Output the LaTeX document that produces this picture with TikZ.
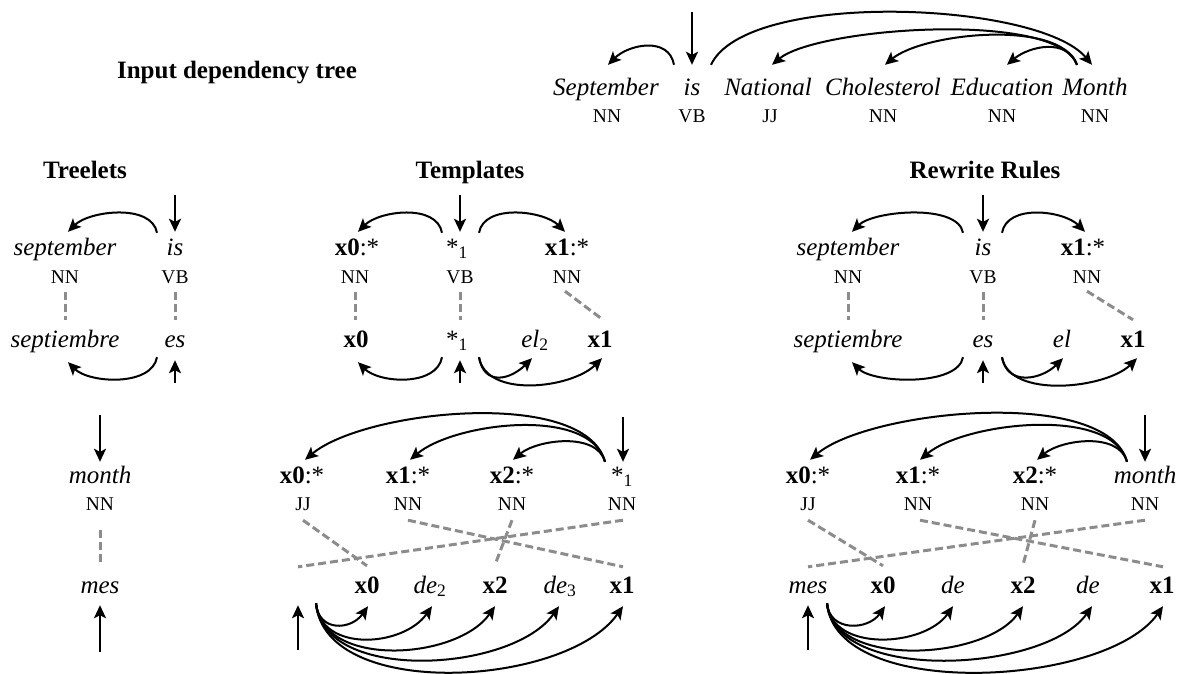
\documentclass[tikz,border=0pt]{standalone}
\usepackage{fontspec}
\setmainfont{Liberation Serif}
\usetikzlibrary{arrows.meta}
\newcommand{\slotvar}[1]{\textbf{x#1}:*}
\newcommand{\headstar}{*\textsubscript{1}}

\begin{document}
\begin{tikzpicture}[x=1pt,y=1pt,
	wordnode/.style={font=\fontsize{25}{30}\selectfont\itshape, inner xsep=1pt, inner ysep=0pt, text height=17pt, text depth=5pt, anchor=base},
	slotnode/.style={wordnode, font=\fontsize{25}{30}\selectfont},
	tagnode/.style={font=\fontsize{19.5}{23}\selectfont, inner sep=0pt, text height=13pt, text depth=0pt, anchor=base},
	titlenode/.style={font=\fontsize{25}{30}\selectfont\bfseries, inner sep=0pt, anchor=base},
	deparc/.style={line width=2pt, -{Stealth[length=13pt,width=12pt,inset=3pt]}},
	alignline/.style={line width=3pt, black!45, dash pattern=on 8pt off 4pt}]
			%%%%% START %%%%%
			\useasboundingbox (0,0) rectangle (1177,-673);
			
			%% input tree
			\node[titlenode] (inTitle) at (237,-78) {Input dependency tree};
			\node[wordnode] (inSep) at (606,-95) {September};
			\node[wordnode] (inIs) at (692,-95) {is};
			\node[wordnode] (inNat) at (768,-95) {National};
			\node[wordnode] (inCho) at (883,-95) {Cholesterol};
			\node[wordnode] (inEdu) at (1002,-95) {Education};
			\node[wordnode] (inMon) at (1095,-95) {Month};
			\node[tagnode] (inSepT) at (607,-122) {NN};
			\node[tagnode] (inIsT) at (692,-122) {VB};
			\node[tagnode] (inNatT) at (770,-122) {JJ};
			\node[tagnode] (inChoT) at (883,-122) {NN};
			\node[tagnode] (inEduT) at (1002,-122) {NN};
			\node[tagnode] (inMonT) at (1095,-122) {NN};
			
			\coordinate (inRoot) at (692,-12);
			\draw[deparc] (inRoot) -- ([yshift=13pt]inIs.north);
			\draw[deparc] ([xshift=-18pt,yshift=13pt]inIs.north) to[out=100,in=45,looseness=1.13] ([xshift=2pt,yshift=13pt]inSep.north);
			\draw[deparc] ([xshift=19pt,yshift=13pt]inIs.north) to[out=65,in=130,looseness=0.56] ([xshift=-3pt,yshift=13pt]inMon.north);
			\draw[deparc] ([xshift=-18pt,yshift=13pt]inMon.north) to[out=110,in=40,looseness=0.49] ([xshift=4pt,yshift=13pt]inNat.north);
			\draw[deparc] ([xshift=-18pt,yshift=13pt]inMon.north) to[out=110,in=40,looseness=0.66] ([xshift=2pt,yshift=13pt]inCho.north);
			\draw[deparc] ([xshift=-18pt,yshift=13pt]inMon.north) to[out=110,in=40,looseness=1.06] ([xshift=5pt,yshift=13pt]inEdu.north);
			
			%% treelets
			\node[titlenode] (tlTitle) at (85,-178) {Treelets};
			\node[wordnode] (tlSep) at (65,-255) {september};
			\node[wordnode] (tlIs) at (175,-255) {is};
			\node[tagnode] (tlSepT) at (65,-283) {NN};
			\node[tagnode] (tlIsT) at (175,-283) {VB};
			\node[wordnode] (tlSepti) at (65,-347) {septiembre};
			\node[wordnode] (tlEs) at (175,-347) {es};
			\node[wordnode] (tlMon) at (100,-483) {month};
			\node[tagnode] (tlMonT) at (100,-510) {NN};
			\node[wordnode] (tlMes) at (100,-593) {mes};
			
			\coordinate (tlIsIn) at (175,-195);
			\draw[deparc] (tlIsIn) -- ([yshift=6pt]tlIs.north);
			\draw[deparc] ([xshift=-18pt,yshift=5pt]tlIs.north) to[out=100,in=45,looseness=0.86] ([xshift=3pt,yshift=6pt]tlSep.north);
			\draw[alignline] ([yshift=-9pt]tlSepT.south) -- ([yshift=10pt]tlSepti.north);
			\draw[alignline] ([yshift=-9pt]tlIsT.south) -- ([yshift=10pt]tlEs.north);
			\draw[deparc] ([xshift=-18pt,yshift=-5pt]tlEs.south) to[out=260,in=315,looseness=0.86] ([xshift=3pt,yshift=-10pt]tlSepti.south);
			\coordinate (tlEsIn) at (175,-383);
			\draw[deparc] (tlEsIn) -- ([yshift=-8pt]tlEs.south);
			\coordinate (tlMonIn) at (100,-415);
			\draw[deparc] (tlMonIn) -- ([yshift=4pt]tlMon.north);
			\draw[alignline] ([yshift=-20pt]tlMonT.south) -- ([yshift=13pt]tlMes.north);
			\coordinate (tlMesIn) at (100,-652);
			\draw[deparc] (tlMesIn) -- ([yshift=-7pt]tlMes.south);
			
			%% templates
			\node[titlenode] (tpTitle) at (470,-178) {Templates};
			\node[slotnode] (tpX0) at (357,-255) {\slotvar{0}};
			\node[slotnode] (tpS) at (457,-255) {\headstar};
			\node[slotnode] (tpX1) at (567,-255) {\slotvar{1}};
			\node[tagnode] (tpX0T) at (355,-283) {NN};
			\node[tagnode] (tpST) at (460,-283) {VB};
			\node[tagnode] (tpX1T) at (567,-283) {NN};
			\node[slotnode] (tpX0b) at (356,-347) {\textbf{x0}};
			\node[slotnode] (tpSb) at (457,-347) {\headstar};
			\node[slotnode] (tpEl) at (535,-347) {\textit{el}\textsubscript{2}};
			\node[slotnode] (tpX1b) at (600,-347) {\textbf{x1}};
			
			\coordinate (tpSIn) at (460,-195);
			\draw[deparc] (tpSIn) -- ([xshift=3pt,yshift=6pt]tpS.north);
			\draw[deparc] ([xshift=-15pt,yshift=5pt]tpS.north) to[out=100,in=45,looseness=0.91] ([xshift=1pt,yshift=6pt]tpX0.north);
			\draw[deparc] ([xshift=22pt,yshift=5pt]tpS.north) to[out=80,in=135,looseness=0.89] ([xshift=-2pt,yshift=6pt]tpX1.north);
			\draw[alignline] ([yshift=-9pt]tpX0T.south) -- ([xshift=-1pt,yshift=10pt]tpX0b.north);
			\draw[alignline] ([yshift=-9pt]tpST.south) -- ([xshift=3pt,yshift=10pt]tpSb.north);
			\draw[alignline] ([xshift=-2pt,yshift=-8pt]tpX1T.south) -- ([xshift=3pt,yshift=10pt]tpX1b.north);
			\draw[deparc] ([xshift=-15pt,yshift=-5pt]tpSb.south) to[out=260,in=315,looseness=0.91] ([xshift=2pt,yshift=-10pt]tpX0b.south);
			\draw[deparc] ([xshift=22pt,yshift=-5pt]tpSb.south) to[out=280,in=225,looseness=1.45] ([xshift=-3pt,yshift=-6pt]tpEl.south);
			\draw[deparc] ([xshift=22pt,yshift=-5pt]tpSb.south) to[out=280,in=225,looseness=0.88] ([xshift=2pt,yshift=-6pt]tpX1b.south);
			\coordinate (tpSbIn) at (460,-383);
			\draw[deparc] (tpSbIn) -- ([xshift=3pt,yshift=-8pt]tpSb.south);
			
			\node[slotnode] (tqX0) at (302,-483) {\slotvar{0}};
			\node[slotnode] (tqX1) at (408,-483) {\slotvar{1}};
			\node[slotnode] (tqX2) at (512,-483) {\slotvar{2}};
			\node[slotnode] (tqS) at (622,-483) {\headstar};
			\node[tagnode] (tqX0T) at (303,-510) {JJ};
			\node[tagnode] (tqX1T) at (408,-510) {NN};
			\node[tagnode] (tqX2T) at (512,-510) {NN};
			\node[tagnode] (tqST) at (622,-510) {NN};
			\node[slotnode] (tqRoot) at (298,-593) {};
			\node[slotnode] (tqX0b) at (367,-593) {\textbf{x0}};
			\node[slotnode] (tqDe2) at (430,-593) {\textit{de}\textsubscript{2}};
			\node[slotnode] (tqX2b) at (495,-593) {\textbf{x2}};
			\node[slotnode] (tqDe3) at (560,-593) {\textit{de}\textsubscript{3}};
			\node[slotnode] (tqX1b) at (622,-593) {\textbf{x1}};
			
			\coordinate (tqSIn) at (623,-417);
			\draw[deparc] (tqSIn) -- ([xshift=1pt,yshift=4pt]tqS.north);
			\draw[deparc] ([xshift=-17pt,yshift=4pt]tqS.north) to[out=105,in=40,looseness=0.66] ([xshift=3pt,yshift=6pt]tqX0.north);
			\draw[deparc] ([xshift=-17pt,yshift=4pt]tqS.north) to[out=105,in=40,looseness=0.76] ([xshift=2pt,yshift=6pt]tqX1.north);
			\draw[deparc] ([xshift=-17pt,yshift=4pt]tqS.north) to[out=105,in=40,looseness=0.87] ([xshift=1pt,yshift=6pt]tqX2.north);
			\draw[alignline] ([yshift=-10pt]tqX0T.south) -- ([yshift=10pt]tqX0b.north);
			\draw[alignline] ([yshift=-10pt]tqX1T.south) -- ([xshift=1pt,yshift=9pt]tqX1b.north);
			\draw[alignline] ([yshift=-10pt]tqX2T.south) -- ([yshift=11pt]tqX2b.north);
			\draw[alignline] ([xshift=1pt,yshift=-10pt]tqST.south) -- ([yshift=9pt]tqRoot.north);
			\coordinate (tqRootIn) at (298,-650);
			\draw[deparc] (tqRootIn) -- ([yshift=-7pt]tqRoot.south);
			\draw[deparc] ([xshift=18pt,yshift=-5pt]tqRoot.south) to[out=275,in=235,looseness=1.44] ([xshift=1pt,yshift=-8pt]tqX0b.south);
			\draw[deparc] ([xshift=18pt,yshift=-5pt]tqRoot.south) to[out=275,in=235,looseness=1.10] ([xshift=2pt,yshift=-8pt]tqDe2.south);
			\draw[deparc] ([xshift=18pt,yshift=-5pt]tqRoot.south) to[out=275,in=235,looseness=0.94] ([yshift=-8pt]tqX2b.south);
			\draw[deparc] ([xshift=18pt,yshift=-5pt]tqRoot.south) to[out=275,in=235,looseness=0.85] ([xshift=-1pt,yshift=-8pt]tqDe3.south);
			\draw[deparc] ([xshift=18pt,yshift=-5pt]tqRoot.south) to[out=275,in=235,looseness=0.82] ([xshift=1pt,yshift=-8pt]tqX1b.south);
			
			%% rewrite rules
			\node[titlenode] (rpTitle) at (985,-178) {Rewrite Rules};
			\node[wordnode] (rpSep) at (848,-255) {september};
			\node[wordnode] (rpIs) at (983,-255) {is};
			\node[slotnode] (rpX1) at (1083,-255) {\slotvar{1}};
			\node[tagnode] (rpSepT) at (848,-283) {NN};
			\node[tagnode] (rpIsT) at (983,-283) {VB};
			\node[tagnode] (rpX1T) at (1087,-283) {NN};
			\node[wordnode] (rpSepti) at (848,-347) {septiembre};
			\node[wordnode] (rpEs) at (983,-347) {es};
			\node[wordnode] (rpEl) at (1062,-347) {el};
			\node[slotnode] (rpX1b) at (1133,-347) {\textbf{x1}};
			
			\coordinate (rpIsIn) at (983,-195);
			\draw[deparc] (rpIsIn) -- ([yshift=6pt]rpIs.north);
			\draw[deparc] ([xshift=-20pt,yshift=5pt]rpIs.north) to[out=100,in=45,looseness=0.69] ([xshift=4pt,yshift=6pt]rpSep.north);
			\draw[deparc] ([xshift=19pt,yshift=5pt]rpIs.north) to[out=80,in=135,looseness=0.92] ([xshift=2pt,yshift=6pt]rpX1.north);
			\draw[alignline] ([yshift=-9pt]rpSepT.south) -- ([yshift=10pt]rpSepti.north);
			\draw[alignline] ([yshift=-9pt]rpIsT.south) -- ([yshift=10pt]rpEs.north);
			\draw[alignline] ([yshift=-8pt]rpX1T.south) -- ([yshift=10pt]rpX1b.north);
			\draw[deparc] ([xshift=-20pt,yshift=-5pt]rpEs.south) to[out=260,in=315,looseness=0.69] ([xshift=4pt,yshift=-10pt]rpSepti.south);
			\draw[deparc] ([xshift=19pt,yshift=-5pt]rpEs.south) to[out=280,in=225,looseness=1.26] ([xshift=1pt,yshift=-6pt]rpEl.south);
			\draw[deparc] ([xshift=19pt,yshift=-5pt]rpEs.south) to[out=280,in=225,looseness=0.81] ([xshift=4pt,yshift=-6pt]rpX1b.south);
			\coordinate (rpEsIn) at (983,-383);
			\draw[deparc] (rpEsIn) -- ([yshift=-8pt]rpEs.south);
			
			\node[slotnode] (rqX0) at (808,-483) {\slotvar{0}};
			\node[slotnode] (rqX1) at (918,-483) {\slotvar{1}};
			\node[slotnode] (rqX2) at (1035,-483) {\slotvar{2}};
			\node[wordnode] (rqMon) at (1145,-483) {month};
			\node[tagnode] (rqX0T) at (808,-510) {JJ};
			\node[tagnode] (rqX1T) at (918,-510) {NN};
			\node[tagnode] (rqX2T) at (1035,-510) {NN};
			\node[tagnode] (rqMonT) at (1145,-510) {NN};
			\node[wordnode] (rqMes) at (808,-593) {mes};
			\node[slotnode] (rqX0b) at (883,-593) {\textbf{x0}};
			\node[wordnode] (rqDe) at (953,-593) {de};
			\node[slotnode] (rqX2b) at (1023,-593) {\textbf{x2}};
			\node[wordnode] (rqDeB) at (1088,-593) {de};
			\node[slotnode] (rqX1b) at (1162,-593) {\textbf{x1}};
			
			\coordinate (rqMonIn) at (1145,-415);
			\draw[deparc] (rqMonIn) -- ([yshift=4pt]rqMon.north);
			\draw[deparc] ([xshift=-18pt,yshift=4pt]rqMon.north) to[out=105,in=40,looseness=0.63] ([xshift=2pt,yshift=6pt]rqX0.north);
			\draw[deparc] ([xshift=-18pt,yshift=4pt]rqMon.north) to[out=105,in=40,looseness=0.72] ([xshift=2pt,yshift=6pt]rqX1.north);
			\draw[deparc] ([xshift=-18pt,yshift=4pt]rqMon.north) to[out=105,in=40,looseness=0.89] ([xshift=2pt,yshift=6pt]rqX2.north);
			\draw[alignline] ([yshift=-10pt]rqX0T.south) -- ([yshift=10pt]rqX0b.north);
			\draw[alignline] ([xshift=2pt,yshift=-10pt]rqX1T.south) -- ([xshift=1pt,yshift=9pt]rqX1b.north);
			\draw[alignline] ([yshift=-10pt]rqX2T.south) -- ([yshift=11pt]rqX2b.north);
			\draw[alignline] ([yshift=-10pt]rqMonT.south) -- ([yshift=9pt]rqMes.north);
			\coordinate (rqMesIn) at (808,-650);
			\draw[deparc] (rqMesIn) -- ([yshift=-7pt]rqMes.south);
			\draw[deparc] ([xshift=19pt,yshift=-5pt]rqMes.south) to[out=275,in=235,looseness=1.29] ([xshift=2pt,yshift=-8pt]rqX0b.south);
			\draw[deparc] ([xshift=19pt,yshift=-5pt]rqMes.south) to[out=275,in=235,looseness=1.01] ([yshift=-8pt]rqDe.south);
			\draw[deparc] ([xshift=19pt,yshift=-5pt]rqMes.south) to[out=275,in=235,looseness=0.86] ([yshift=-8pt]rqX2b.south);
			\draw[deparc] ([xshift=19pt,yshift=-5pt]rqMes.south) to[out=275,in=235,looseness=0.78] ([xshift=4pt,yshift=-8pt]rqDeB.south);
			\draw[deparc] ([xshift=19pt,yshift=-5pt]rqMes.south) to[out=275,in=235,looseness=0.75] ([xshift=1pt,yshift=-8pt]rqX1b.south);
			%%%%% END %%%%%
\end{tikzpicture}
\end{document}
